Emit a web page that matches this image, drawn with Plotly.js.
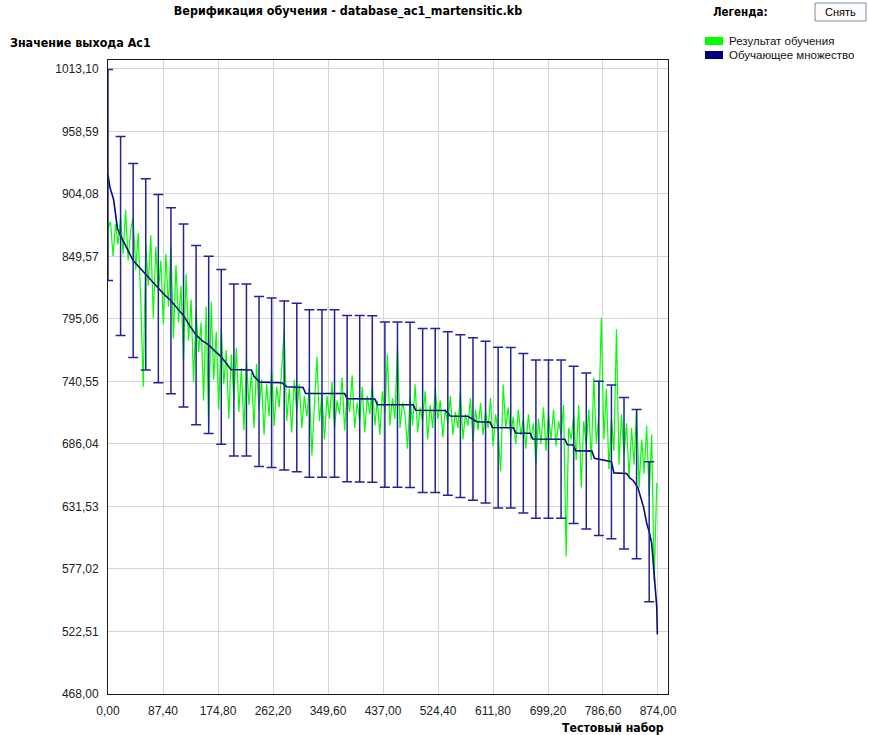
<!DOCTYPE html>
<html>
<head>
<meta charset="utf-8">
<script src="https://cdn.plot.ly/plotly-3.0.1.min.js"></script>
<style>
html,body{margin:0;padding:0;background:#fff;}
#chart{width:869px;height:735px;}
</style>
</head>
<body>
<div id="chart"></div>
<script>
// ---- Data ----
// Training set (dark blue), index positions and values
const blueIdx = [0,3,9,12,15,20,30,40,50,60,70,80,90,100,110,120,130,140,150,160,170,180,190,195,228,232,241,276,284,310,314,376,380,424,428,485,489,536,544,572,586,607,611,644,648,671,675,726,730,739,743,769,773,800,804,824,830,835,842,851,856,860,864,868,872,873];
const blueVal = [920.6,910,899,884,874,867.5,856,846,840,834,828,821.5,816,811,804,798,789,781,776,772.5,767,762,755,751,750.5,745,740,739.5,736,735.3,730.2,730,725.6,725.3,720.4,720.2,715.4,715.2,710.5,710.2,705.4,705.1,700.4,700.2,695.6,695.4,690.4,690.2,685.4,685.1,680.2,679.8,673.5,670.5,660.8,660.3,656,654,648,631,617,609.5,599.5,574,544,520];

// Error-bar positions (every 20th sample) and the training-set value there
const errIdx = [0,20,40,60,80,100,120,140,160,180,200,220,240,260,280,300,320,340,360,380,400,420,440,460,480,500,520,540,560,580,600,620,640,660,680,700,720,740,760,780,800,820,840,860];
const errVal = [920.6,867.5,846,834,821.5,811,798,781,772.5,762,750.5,750.5,740.5,739.5,737,735.3,730,730,730,725.6,725.5,725.3,720.3,720.3,720.2,715.3,715.3,712.7,710.3,707.8,705.1,700.3,700.2,695.5,690.3,690.3,690.3,685.2,680,673.5,670.5,660.5,651,609.5];
const errPercent = 10;

// Training result (green), one value every 4 samples
const greenStep = 4;
const greenVal = [874,880,850,878,860,884,852,890,846,872,884,838,870,812,736,862,824,868,796,858,
818,846,790,852,806,858,778,842,792,824,758,834,776,812,740,804,766,792,724,806,
700,810,742,784,716,788,738,768,708,764,724,770,714,752,698,760,720,748,700,756,
716,742,694,738,710,752,702,736,718,748,786,706,734,696,742,714,738,700,728,710,
736,676,726,762,706,730,690,728,708,740,700,724,712,744,698,730,714,746,700,722,
706,736,696,728,712,740,702,724,694,732,714,764,702,726,708,772,700,722,712,682,
728,702,738,696,718,706,732,690,720,700,736,708,724,692,716,704,728,694,714,700,
732,690,712,702,726,688,716,698,722,694,714,700,726,684,712,696,662,738,700,718,
692,710,686,716,694,708,682,712,690,704,668,708,686,718,680,712,690,716,684,706,
694,720,588,700,690,712,672,720,648,706,684,716,672,744,686,712,796,690,734,664,
708,680,786,668,712,676,704,656,700,668,716,648,690,660,702,640,694,566,652];

// Axis ticks
const xTickVals = [0,87.4,174.8,262.2,349.6,437,524.4,611.8,699.2,786.6,874];
const xTickText = ['0,00','87,40','174,80','262,20','349,60','437,00','524,40','611,80','699,20','786,60','874,00'];
const yTickVals = [468,522.51,577.02,631.53,686.04,740.55,795.06,849.57,904.08,958.59,1013.1];
const yTickText = ['468,00','522,51','577,02','631,53','686,04','740,55','795,06','849,57','904,08','958,59','1013,10'];

// Texts
const chartTitle = 'Верификация обучения - database_ac1_martensitic.kb';
const yTitle = 'Значение выхода Ас1';
const xTitle = 'Тестовый набор';
const legendTitle = 'Легенда:';
const buttonText = 'Снять';
const greenName = 'Результат обучения';
const blueName = 'Обучающее множество';

// ---- Build ----
const greenIdx = greenVal.map((v, i) => i * greenStep);

const W = 869, H = 735;
const M = {l:108, r:201, t:60, b:41};
const PW = W - M.l - M.r, PH = H - M.t - M.b;
const px = x => (x - M.l) / PW;          // pixel -> paper x
const py = y => (H - M.b - y) / PH;      // pixel -> paper y

const GREEN = '#00ff00';
const NAVY = '#0a0a80';
const BAR = '#23239c';
const BOLD = '"Liberation Sans Narrow", "DejaVu Sans Condensed", "Liberation Sans", sans-serif';
const REG = '"Liberation Sans", Arial, sans-serif';

const traces = [
  {x: greenIdx, y: greenVal, type: 'scatter', mode: 'lines', name: greenName,
   line: {color: GREEN, width: 1.2}, showlegend: false},
  {x: blueIdx, y: blueVal, type: 'scatter', mode: 'lines', name: blueName,
   line: {color: NAVY, width: 1.6}, showlegend: false},
  {x: errIdx, y: errVal, type: 'scatter', mode: 'markers', name: blueName,
   marker: {size: 1, color: NAVY, opacity: 0}, showlegend: false, cliponaxis: false,
   error_y: {type: 'percent', value: errPercent, color: BAR, thickness: 1.5, width: 5}}
];

const axisCommon = {
  showgrid: true, gridcolor: '#d6d6d6', gridwidth: 1,
  zeroline: false, showline: true, mirror: true, linecolor: '#1a1a1a', linewidth: 1,
  ticks: '', tickmode: 'array',
  tickfont: {family: REG, size: 12, color: '#222'}
};

const layout = {
  width: W, height: H,
  margin: M,
  paper_bgcolor: '#ffffff', plot_bgcolor: '#ffffff',
  showlegend: false,
  title: {text: '<b>' + chartTitle + '</b>', x: 348 / W, xanchor: 'center', y: 1 - 11 / H, yanchor: 'middle',
          font: {family: BOLD, size: 12.4, color: '#000'}},
  xaxis: Object.assign({}, axisCommon, {range: [0, 889.9], tickvals: xTickVals, ticktext: xTickText, ticklabelstandoff: 6}),
  yaxis: Object.assign({}, axisCommon, {range: [468, 1020.9], tickvals: yTickVals, ticktext: yTickText, ticklabelstandoff: 6}),
  shapes: [
    {type: 'rect', xref: 'paper', yref: 'paper', x0: px(705), x1: px(723), y0: py(45), y1: py(37),
     fillcolor: GREEN, line: {width: 0}},
    {type: 'rect', xref: 'paper', yref: 'paper', x0: px(705), x1: px(723), y0: py(59), y1: py(51),
     fillcolor: '#000080', line: {width: 0}},
    {type: 'rect', xref: 'paper', yref: 'paper', x0: px(815), x1: px(866), y0: py(21), y1: py(3),
     fillcolor: '#fbfbfb', line: {color: '#7a8ea8', width: 1}}
  ],
  annotations: [
    {text: '<b>' + yTitle + '</b>', xref: 'paper', yref: 'paper', x: px(8), y: py(43), xanchor: 'left', yanchor: 'middle',
     showarrow: false, font: {family: BOLD, size: 12.4, color: '#000'}},
    {text: '<b>' + xTitle + '</b>', xref: 'paper', yref: 'paper', x: px(666), y: py(728), xanchor: 'right', yanchor: 'middle',
     showarrow: false, font: {family: BOLD, size: 12.2, color: '#000'}},
    {text: '<b>' + legendTitle + '</b>', xref: 'paper', yref: 'paper', x: px(711), y: py(12), xanchor: 'left', yanchor: 'middle',
     showarrow: false, font: {family: BOLD, size: 11.5, color: '#000'}},
    {text: buttonText, xref: 'paper', yref: 'paper', x: px(840.5), y: py(12), xanchor: 'center', yanchor: 'middle',
     showarrow: false, font: {family: REG, size: 11, color: '#000'}},
    {text: greenName, xref: 'paper', yref: 'paper', x: px(727), y: py(41), xanchor: 'left', yanchor: 'middle',
     showarrow: false, font: {family: REG, size: 11.5, color: '#111'}},
    {text: blueName, xref: 'paper', yref: 'paper', x: px(727), y: py(55), xanchor: 'left', yanchor: 'middle',
     showarrow: false, font: {family: REG, size: 11.5, color: '#111'}}
  ]
};

Plotly.newPlot('chart', traces, layout, {displayModeBar: false, staticPlot: true});
</script>
</body>
</html>
